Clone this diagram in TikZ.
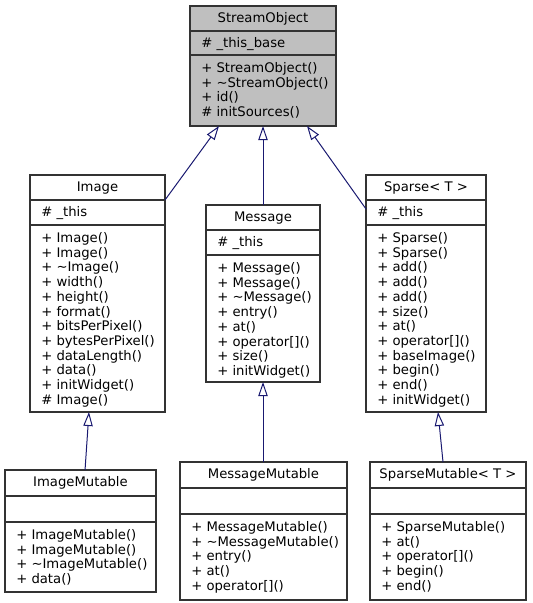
\documentclass[tikz,border=0pt]{standalone}
\usepackage{fontspec}
\setmainfont{DejaVu Sans}
\usetikzlibrary{arrows.meta}
\definecolor{edgeblue}{HTML}{191970}
\definecolor{boxline}{HTML}{333333}
\definecolor{basefill}{HTML}{BFBFBF}
\tikzset{
  clsbox/.style={draw=boxline, line width=0.8pt, inner sep=0pt, outer sep=0pt},
  divline/.style={draw=boxline, line width=0.8pt},
  txt/.style={inner sep=0pt, font=\fontsize{9.9}{11}\selectfont},
  inh/.style={draw=edgeblue, line width=0.75pt, -{Triangle[open, length=10.5pt, width=7pt]}}
}
% #1 name, #2 x1, #3 y1, #4 x2, #5 y2, #6 d1, #7 d2, #8 fill
\newcommand\umlcls[8]{%
  \node[clsbox, fill=#8, minimum width={(#4-#2)*0.75pt}, minimum height={(#5-#3)*0.75pt}] (#1) at ({(#2+#4)/2},{(#3+#5)/2}) {};
  \draw[divline] (#2,#6) -- (#4,#6);
  \draw[divline] (#2,#7) -- (#4,#7);
}
% #1 x1, #2 x2, #3 y1 : title
\newcommand\umltitle[4]{\node[txt, anchor=base] at ({(#1+#2)/2},{#3+16.5}) {#4};}
% #1 x1, #2 d1, #3 text
\newcommand\umlattr[3]{\node[txt, anchor=base west] at ({#1+11},{#2+16}) {#3};}
% #1 x1, #2 d2, #3 list
\newcommand\umlmeth[3]{\foreach \t [count=\i from 0] in {#3} {\node[txt, anchor=base west] at ({#1+11},{#2+17.5+\i*14.7}) {\t};}}
\newcommand\tld{\textasciitilde}
\begin{document}
\begin{tikzpicture}[x=0.75pt, y=-0.75pt]
\useasboundingbox (0,0) rectangle (532,603);

% StreamObject
\umlcls{so}{190}{6}{336}{126}{31}{55}{basefill}
\umltitle{190}{336}{6}{StreamObject}
\umlattr{190}{31}{\# \_this\_base}
\umlmeth{190}{55}{{+ StreamObject()},{+ \tld StreamObject()},{+ id()},{\# initSources()}}

% Image
\umlcls{img}{30}{175}{165}{412}{200}{225}{white}
\umltitle{30}{165}{175}{Image}
\umlattr{30}{200}{\# \_this}
\umlmeth{30}{225}{{+ Image()},{+ Image()},{+ \tld Image()},{+ width()},{+ height()},{+ format()},{+ bitsPerPixel()},{+ bytesPerPixel()},{+ dataLength()},{+ data()},{+ initWidget()},{\# Image()}}

% Message
\umlcls{msg}{206}{205}{320}{382}{230}{255}{white}
\umltitle{206}{320}{205}{Message}
\umlattr{206}{230}{\# \_this}
\umlmeth{206}{255}{{+ Message()},{+ Message()},{+ \tld Message()},{+ entry()},{+ at()},{+ operator[]()},{+ size()},{+ initWidget()}}

% Sparse
\umlcls{sp}{366}{175}{486}{412}{200}{225}{white}
\umltitle{366}{486}{175}{Sparse< T >}
\umlattr{366}{200}{\# \_this}
\umlmeth{366}{225}{{+ Sparse()},{+ Sparse()},{+ add()},{+ add()},{+ add()},{+ size()},{+ at()},{+ operator[]()},{+ baseImage()},{+ begin()},{+ end()},{+ initWidget()}}

% ImageMutable
\umlcls{imm}{5}{470}{156}{592}{496}{522}{white}
\umltitle{5}{156}{470}{ImageMutable}
\umlmeth{5}{522}{{+ ImageMutable()},{+ ImageMutable()},{+ \tld ImageMutable()},{+ data()}}

% MessageMutable
\umlcls{mm}{180}{462}{347}{600}{488}{514}{white}
\umltitle{180}{347}{462}{MessageMutable}
\umlmeth{180}{514}{{+ MessageMutable()},{+ \tld MessageMutable()},{+ entry()},{+ at()},{+ operator[]()}}

% SparseMutable
\umlcls{smm}{370}{462}{526}{600}{488}{514}{white}
\umltitle{370}{526}{462}{SparseMutable< T >}
\umlmeth{370}{514}{{+ SparseMutable()},{+ at()},{+ operator[]()},{+ begin()},{+ end()}}

% inheritance edges
\draw[inh] ([yshift=-18.75pt]img.north east) -- ([xshift=21.75pt]so.south west);
\draw[inh] (msg.north) -- (msg.north |- so.south);
\draw[inh] ([yshift=-25.5pt]sp.north west) -- ([xshift=-21.75pt]so.south east);
\draw[inh] ([xshift=3.4pt]imm.north) -- ([xshift=-6.4pt]img.south);
\draw[inh] (mm.north -| msg.south) -- (msg.south);
\draw[inh] ([xshift=-3.75pt]smm.north) -- ([xshift=9pt]sp.south);
\end{tikzpicture}
\end{document}
